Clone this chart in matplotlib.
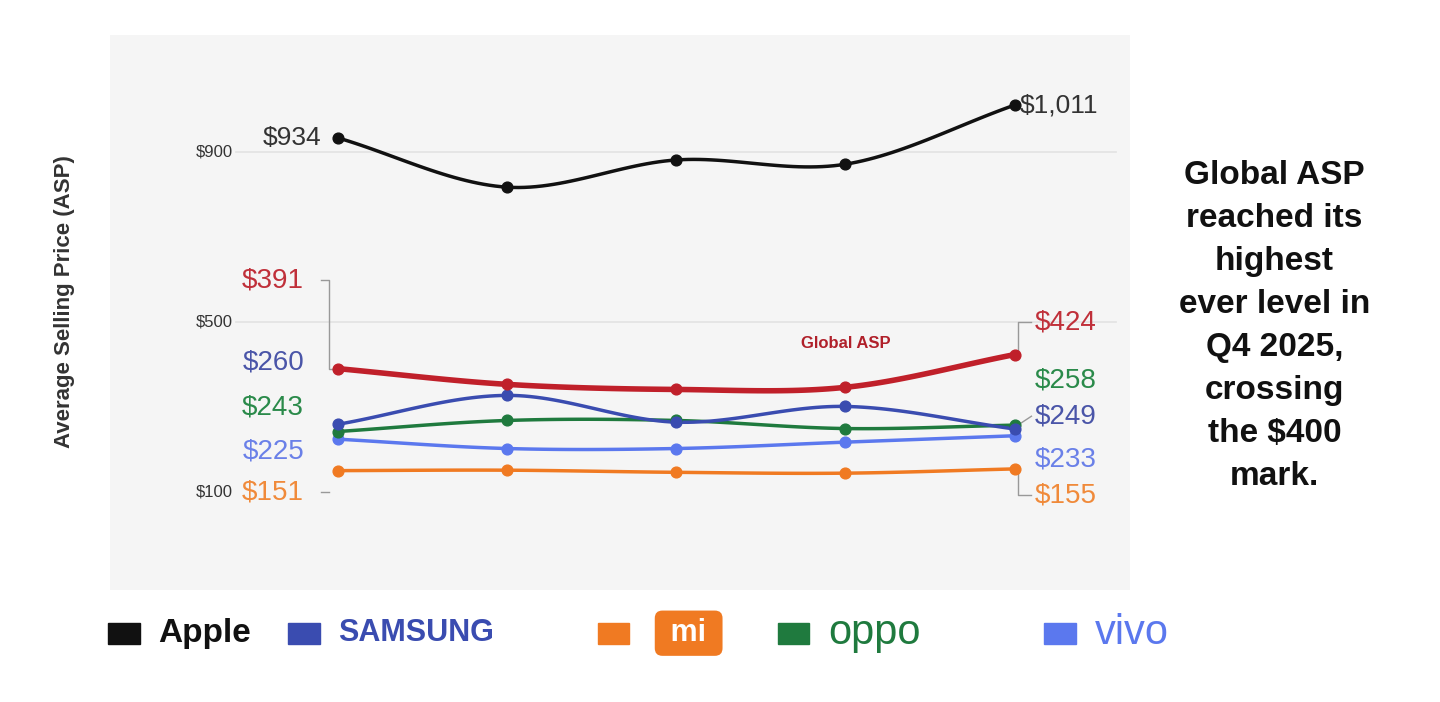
import numpy as np
import matplotlib.pyplot as plt

plt.rcParams['font.family'] = ['Liberation Sans', 'DejaVu Sans']

quarters = ["Q4 2024", "Q1 2025", "Q2 2025", "Q3 2025", "Q4 2025"]
apple = [934, 818, 882, 872, 1011]
global_asp = [391, 354, 342, 347, 424]
samsung = [260, 328, 265, 302, 249]
oppo = [243, 269, 269, 250, 258]
vivo = [225, 203, 203, 218, 233]
xiaomi = [151, 152, 147, 145, 155]

C_APPLE = "#111111"
C_GLOBAL = "#c0202a"
C_SAMSUNG = "#3a4cb0"
C_OPPO = "#1f7a3e"
C_VIVO = "#5b78ee"
C_XIAOMI = "#f07a22"


def smooth(y, n=30):
    # Catmull-Rom spline through the points, only for drawing
    p = np.asarray(y, float)
    p = np.concatenate([[2 * p[0] - p[1]], p, [2 * p[-1] - p[-2]]])
    xs, ys = [], []
    for i in range(1, len(p) - 2):
        t = np.linspace(0, 1, n)
        p0, p1, p2, p3 = p[i - 1], p[i], p[i + 1], p[i + 2]
        yy = 0.5 * ((2 * p1) + (-p0 + p2) * t + (2 * p0 - 5 * p1 + 4 * p2 - p3) * t ** 2
                    + (-p0 + 3 * p1 - 3 * p2 + p3) * t ** 3)
        xs.append(i - 1 + t)
        ys.append(yy)
    return np.concatenate(xs), np.concatenate(ys)


fig = plt.figure(figsize=(14.4, 7.02), dpi=100)
fig.patch.set_facecolor("white")
ax = fig.add_axes([0.0764, 0.1595, 0.708, 0.79])
ax.set_facecolor("#f5f5f5")
ax.set_xlim(-1.347, 4.68)
ax.set_ylim(-130, 1175)
for s in ax.spines.values():
    s.set_visible(False)
ax.set_xticks([])
ax.set_yticks([])

x = np.arange(len(quarters))
for v in [900, 500]:
    ax.plot([-0.6, 4.6], [v, v], color="#e2e2e2", lw=1.2, zorder=1)
for v, lab in [(900, "$900"), (500, "$500"), (100, "$100")]:
    ax.text(-0.62, v, lab, ha="right", va="center", fontsize=12, color="#333333")

series = [
    (xiaomi, C_XIAOMI, 2.5),
    (vivo, C_VIVO, 2.5),
    (oppo, C_OPPO, 2.5),
    (samsung, C_SAMSUNG, 2.5),
    (global_asp, C_GLOBAL, 4),
    (apple, C_APPLE, 2.5),
]
for y, c, lw in series:
    sx, sy = smooth(y)
    ax.plot(sx, sy, color=c, lw=lw, zorder=3)
    ax.scatter(x, y, color=c, s=60, zorder=4)

# left labels with leader brackets
left = [
    ("$391", global_asp[0], 599, "#c0303a"),
    ("$260", samsung[0], 406, "#4a55a8"),
    ("$243", oppo[0], 300, "#2a8a4a"),
    ("$225", vivo[0], 196, "#6a80e8"),
    ("$151", xiaomi[0], 100, "#f08a3a"),
]
for lab, v, ly, c in left:
    ax.text(-0.2, ly, lab, ha="right", va="center", fontsize=20, color=c)
ax.plot([-0.1, -0.05, -0.05, 0], [599, 599, global_asp[0], global_asp[0]],
        color="#999999", lw=1)
ax.plot([-0.1, -0.05], [100, 100], color="#999999", lw=1)

right = [
    ("$424", global_asp[-1], 500, "#c0303a"),
    ("$258", oppo[-1], 364, "#2a8a4a"),
    ("$249", samsung[-1], 279, "#4a55a8"),
    ("$233", vivo[-1], 178, "#6a80e8"),
    ("$155", xiaomi[-1], 93, "#f08a3a"),
]
for lab, v, ly, c in right:
    ax.text(4.12, ly, lab, ha="left", va="center", fontsize=20, color=c)
ax.plot([4.1, 4.02, 4.02], [500, 500, global_asp[-1]], color="#999999", lw=1)
ax.plot([4.1, 4.02, 4.02], [93, 93, xiaomi[-1]], color="#999999", lw=1)
ax.plot([4.1, 4.02], [279, oppo[-1]], color="#999999", lw=1)

ax.text(-0.1, apple[0], "$934", ha="right", va="center", fontsize=19, color="#333333")
ax.text(4.03, apple[-1], "$1,011", ha="left", va="center", fontsize=19, color="#333333")
ax.text(3.0, 450, "Global ASP", ha="center", va="center", fontsize=12,
        color="#b0202a", fontweight="bold")

fig.text(0.045, 0.57, "Average Selling Price (ASP)", rotation=90, ha="center",
         va="center", fontsize=16, color="#333333", fontweight="bold")

fig.text(0.885, 0.535, "Global ASP\nreached its\nhighest\never level in\nQ4 2025,\ncrossing\nthe $400\nmark.",
         ha="center", va="center", fontsize=24, fontweight="bold",
         linespacing=1.5, color="#111111")

# legend
legend = [("Apple", C_APPLE), ("SAMSUNG", C_SAMSUNG), ("mi", C_XIAOMI),
          ("oppo", C_OPPO), ("vivo", C_VIVO)]
lx = [0.075, 0.2, 0.415, 0.54, 0.725]
for (name, c), px in zip(legend, lx):
    fig.patches.append(plt.Rectangle((px, 0.083), 0.022, 0.03, color=c,
                                     transform=fig.transFigure, figure=fig))
    kw = dict(fontsize=24, fontweight="bold", color=c, va="center")
    if name == "SAMSUNG":
        kw.update(fontsize=22)
    if name == "mi":
        fig.text(px + 0.045, 0.098, " mi ", ha="left", color="white", fontsize=22,
                 fontweight="bold", va="center",
                 bbox=dict(boxstyle="round,pad=0.25", fc=C_XIAOMI, ec="none"))
        continue
    if name in ("oppo", "vivo"):
        kw.update(fontweight="normal", fontsize=30)
    fig.text(px + 0.035, 0.098, name, ha="left", **kw)

fig.savefig("out.png", dpi=100)
